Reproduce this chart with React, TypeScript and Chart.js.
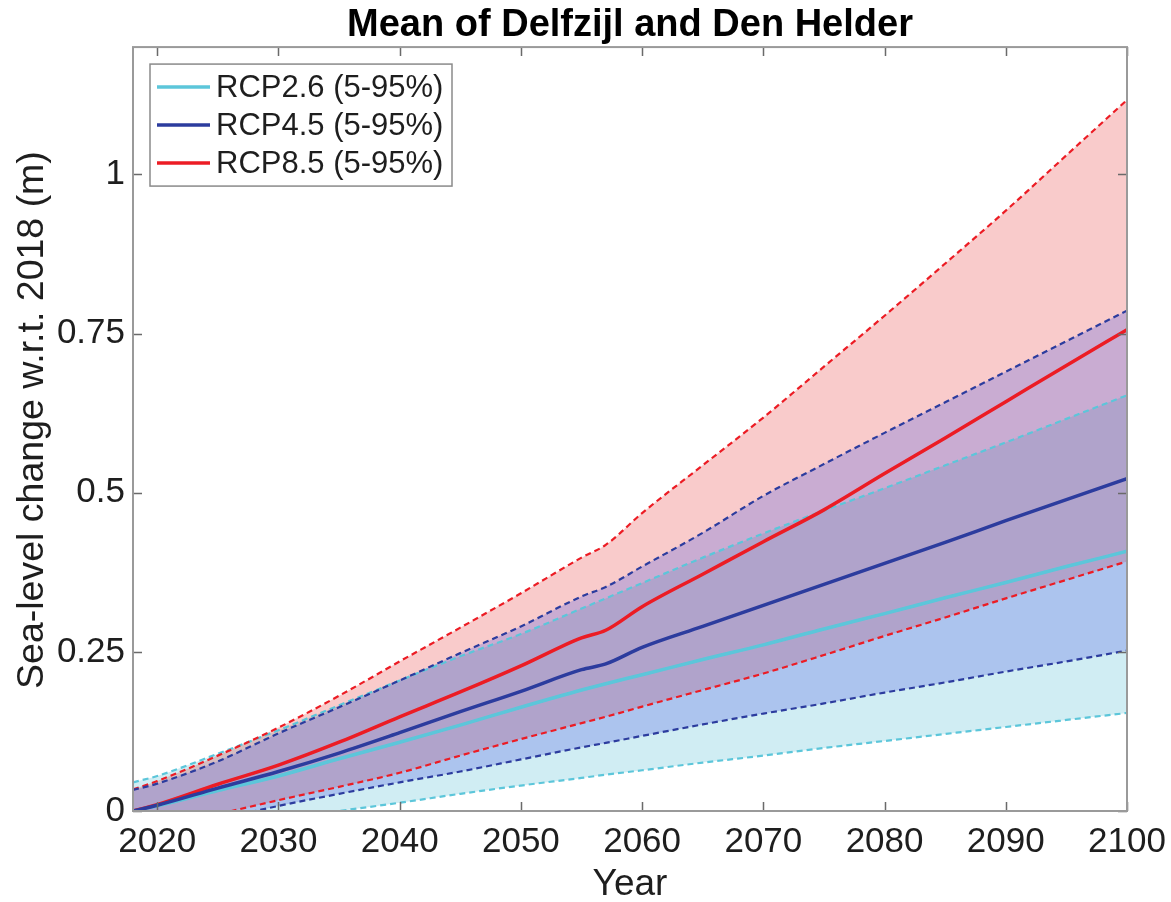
import React, { useEffect, useRef } from 'react';
import { Chart, registerables } from 'chart.js';

Chart.register(...registerables);

// ---------- data ----------
const years = [2018, 2020, 2025, 2030, 2035, 2040, 2045, 2050, 2055, 2057, 2060, 2065, 2070, 2075, 2080, 2085, 2090, 2095, 2100];

const rcp26Median = [0, 0.008, 0.032, 0.055, 0.082, 0.108, 0.135, 0.163, 0.19, 0.2, 0.214, 0.238, 0.261, 0.286, 0.31, 0.335, 0.359, 0.384, 0.408];
const rcp26Upper = [0.045, 0.055, 0.09, 0.127, 0.166, 0.205, 0.243, 0.278, 0.318, 0.334, 0.358, 0.398, 0.436, 0.472, 0.507, 0.543, 0.579, 0.616, 0.653];
const rcp26Lower = [-0.05, -0.043, -0.027, -0.013, 0, 0.013, 0.027, 0.04, 0.052, 0.057, 0.064, 0.076, 0.087, 0.099, 0.11, 0.121, 0.132, 0.143, 0.154];

const rcp45Median = [0, 0.009, 0.036, 0.062, 0.091, 0.123, 0.156, 0.188, 0.222, 0.231, 0.257, 0.29, 0.323, 0.356, 0.389, 0.422, 0.456, 0.489, 0.522];
const rcp45Upper = [0.033, 0.043, 0.078, 0.122, 0.163, 0.205, 0.248, 0.29, 0.337, 0.352, 0.384, 0.437, 0.495, 0.545, 0.594, 0.642, 0.69, 0.738, 0.786];
const rcp45Lower = [-0.04, -0.032, -0.013, 0.008, 0.027, 0.045, 0.062, 0.081, 0.1, 0.107, 0.118, 0.136, 0.153, 0.169, 0.186, 0.202, 0.219, 0.235, 0.252];

const rcp85Median = [0, 0.01, 0.042, 0.072, 0.108, 0.148, 0.187, 0.228, 0.272, 0.284, 0.321, 0.372, 0.423, 0.473, 0.53, 0.586, 0.643, 0.7, 0.756];
const rcp85Upper = [0.034, 0.047, 0.087, 0.131, 0.181, 0.235, 0.288, 0.342, 0.398, 0.418, 0.468, 0.543, 0.618, 0.698, 0.778, 0.86, 0.943, 1.03, 1.117];
const rcp85Lower = [-0.035, -0.026, -0.005, 0.017, 0.038, 0.06, 0.087, 0.113, 0.138, 0.148, 0.164, 0.19, 0.216, 0.245, 0.275, 0.304, 0.334, 0.363, 0.392];

const legendLabels = ['RCP2.6 (5-95%)', 'RCP4.5 (5-95%)', 'RCP8.5 (5-95%)'];
const xTicks = [2020, 2030, 2040, 2050, 2060, 2070, 2080, 2090, 2100];
const yTicks = [0, 0.25, 0.5, 0.75, 1];
const yTickLabels = ['0', '0.25', '0.5', '0.75', '1'];
const titleText = 'Mean of Delfzijl and Den Helder';
const xTitle = 'Year';
const yTitle = 'Sea-level change w.r.t. 2018 (m)';

// ---------- styles ----------
const FONT = "'Liberation Sans', Helvetica, Arial, sans-serif";
const CYAN = 'rgb(92,198,218)';
const BLUE = 'rgb(44,60,158)';
const RED = 'rgb(236,28,36)';
const CYAN_FILL = 'rgba(100,195,215,0.3)';
const BLUE_FILL = 'rgba(90,100,225,0.3)';
const RED_FILL = 'rgba(231,47,47,0.25)';
const TEXT = '#1e1e1e';

const pts = (vals: number[]) => years.map((x, i) => ({ x, y: vals[i] }));

const frameLegendPlugin = {
  id: 'frameLegend',
  afterDraw(chart: any) {
    const { ctx, chartArea: a, scales } = chart;
    const xs = scales.x;
    const ys = scales.y;
    ctx.save();
    // inward ticks on all four sides
    ctx.strokeStyle = '#6a6a6a';
    ctx.lineWidth = 1.5;
    const TL = 9;
    ctx.beginPath();
    for (const t of xs.ticks) {
      const px = Math.round(xs.getPixelForValue(t.value)) + 0.5;
      ctx.moveTo(px, a.bottom);
      ctx.lineTo(px, a.bottom - TL);
      ctx.moveTo(px, a.top);
      ctx.lineTo(px, a.top + TL);
    }
    for (const t of ys.ticks) {
      const py = Math.round(ys.getPixelForValue(t.value)) + 0.5;
      ctx.moveTo(a.left, py);
      ctx.lineTo(a.left + TL, py);
      ctx.moveTo(a.right, py);
      ctx.lineTo(a.right - TL, py);
    }
    ctx.stroke();
    // box
    ctx.strokeStyle = '#9a9a9a';
    ctx.lineWidth = 2;
    ctx.strokeRect(a.left, a.top, a.right - a.left, a.bottom - a.top);

    // y axis title (rotated)
    ctx.save();
    ctx.translate(33, (a.top + a.bottom) / 2 - 9);
    ctx.rotate(-Math.PI / 2);
    ctx.font = `37.5px ${FONT}`;
    ctx.fillStyle = TEXT;
    ctx.textAlign = 'center';
    ctx.textBaseline = 'middle';
    ctx.fillText(yTitle, 0, 0);
    ctx.restore();

    // legend
    const lx = a.left + 17;
    const ly = a.top + 17;
    const lw = 302;
    const lh = 122;
    ctx.fillStyle = '#ffffff';
    ctx.fillRect(lx, ly, lw, lh);
    ctx.strokeStyle = '#8a8a8a';
    ctx.lineWidth = 1.5;
    ctx.strokeRect(lx, ly, lw, lh);
    const colors = [CYAN, BLUE, RED];
    ctx.font = `31px ${FONT}`;
    ctx.textBaseline = 'middle';
    ctx.textAlign = 'left';
    legendLabels.forEach((lab, i) => {
      const cy = ly + 23 + i * 38;
      ctx.strokeStyle = colors[i];
      ctx.lineWidth = 3.5;
      ctx.beginPath();
      ctx.moveTo(lx + 7, cy);
      ctx.lineTo(lx + 60, cy);
      ctx.stroke();
      ctx.fillStyle = TEXT;
      ctx.fillText(lab, lx + 66, cy + 1);
    });
    ctx.restore();
  },
};

export default function App() {
  const ref = useRef<HTMLCanvasElement | null>(null);

  useEffect(() => {
    if (!ref.current) return;
    const dashed = (label: string, data: number[], color: string, fill: any, bg: string) => ({
      label,
      data: pts(data),
      borderColor: color,
      borderWidth: 2.2,
      borderDash: [6, 4],
      backgroundColor: bg,
      fill,
      pointRadius: 0,
      cubicInterpolationMode: 'monotone',
      clip: 0,
    });
    const solid = (label: string, data: number[], color: string) => ({
      label,
      data: pts(data),
      borderColor: color,
      borderWidth: 3.5,
      backgroundColor: color,
      fill: false,
      pointRadius: 0,
      cubicInterpolationMode: 'monotone',
      clip: 0,
    });

    // drawn in reverse order: cyan band first, then red band, blue band on top
    const datasets: any[] = [
      dashed('RCP4.5 95%', rcp45Upper, BLUE, '+1', BLUE_FILL),
      dashed('RCP4.5 5%', rcp45Lower, BLUE, false, BLUE_FILL),
      solid('RCP4.5 median', rcp45Median, BLUE),
      dashed('RCP8.5 95%', rcp85Upper, RED, '+1', RED_FILL),
      dashed('RCP8.5 5%', rcp85Lower, RED, false, RED_FILL),
      solid('RCP8.5 median', rcp85Median, RED),
      dashed('RCP2.6 95%', rcp26Upper, CYAN, '+1', CYAN_FILL),
      dashed('RCP2.6 5%', rcp26Lower, CYAN, false, CYAN_FILL),
      solid('RCP2.6 median', rcp26Median, CYAN),
    ];

    const chart = new Chart(ref.current, {
      type: 'line',
      data: { datasets },
      plugins: [frameLegendPlugin],
      options: {
        animation: false,
        responsive: false,
        maintainAspectRatio: false,
        layout: { padding: { left: 0, right: 44, top: 0, bottom: 0 } },
        plugins: {
          legend: { display: false },
          tooltip: { enabled: false },
          filler: { drawTime: 'beforeDatasetsDraw', propagate: false },
          title: {
            display: true,
            text: titleText,
            fullSize: false,
            color: '#000',
            font: { family: FONT, size: 38, weight: 'bold', lineHeight: 1.16 },
            padding: { top: 3, bottom: 0 },
          },
        },
        scales: {
          x: {
            type: 'linear',
            min: 2018,
            max: 2100,
            afterBuildTicks: (s: any) => {
              s.ticks = xTicks.map((v) => ({ value: v }));
            },
            afterFit: (s: any) => {
              s.height = 91;
              s.paddingLeft = 0;
              s.paddingRight = 0;
            },
            ticks: {
              color: TEXT,
              font: { family: FONT, size: 35 },
              padding: 10,
              maxRotation: 0,
              autoSkip: false,
              callback: (v: any) => String(v),
            },
            grid: { display: false, drawTicks: false },
            border: { display: false },
            title: {
              display: true,
              text: xTitle,
              color: TEXT,
              font: { family: FONT, size: 37 },
              padding: { top: 0, bottom: -5 },
            },
          },
          y: {
            type: 'linear',
            min: 0,
            max: 1.2,
            afterBuildTicks: (s: any) => {
              s.ticks = yTicks.map((v) => ({ value: v }));
            },
            afterFit: (s: any) => {
              s.width = 133;
              s.paddingTop = 0;
              s.paddingBottom = 0;
            },
            ticks: {
              color: TEXT,
              font: { family: FONT, size: 35 },
              padding: 8,
              autoSkip: false,
              callback: (v: any) => yTickLabels[yTicks.indexOf(Number(v))] ?? String(v),
            },
            grid: { display: false, drawTicks: false },
            border: { display: false },
            title: { display: false },
          },
        },
      } as any,
    });
    return () => chart.destroy();
  }, []);

  return (
    <div style={{ position: 'absolute', left: 0, top: 0, width: 1171, height: 902, background: '#fff' }}>
      <canvas ref={ref} width={1171} height={902} style={{ display: 'block' }} />
    </div>
  );
}
